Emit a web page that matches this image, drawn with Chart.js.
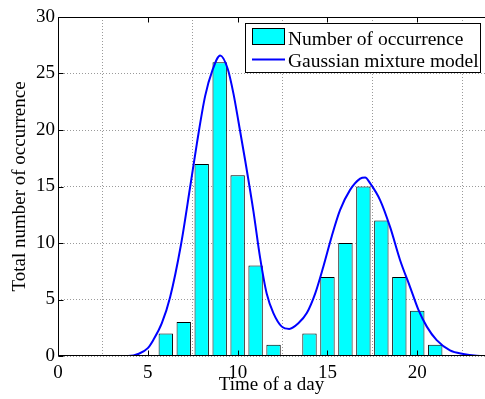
<!DOCTYPE html>
<html><head><meta charset="utf-8">
<script src="https://cdn.jsdelivr.net/npm/chart.js@4/dist/chart.umd.min.js"></script>
<style>html,body{margin:0;padding:0;background:#fff;}canvas{display:block}</style>
</head><body>
<canvas id="c" width="485" height="399"></canvas>
<script>
// ---- data ----
const hours  = [6, 7, 8, 9, 10, 11, 12, 13, 14, 15, 16, 17, 18, 19, 20, 21];
const counts = [2, 3, 17, 26, 16, 8, 1, 0, 2, 7, 10, 15, 12, 7, 4, 1];
const gmmX = [0, 3.9, 4.5, 5.0, 5.3, 5.78, 6.24, 6.84, 7.36, 7.73, 8.19, 8.6, 9.03, 9.45, 9.77, 10.04, 10.42, 10.88, 11.25, 11.62, 11.99, 12.46, 12.87, 13.38, 13.85, 14.31, 14.77, 15.24, 15.7, 16.26, 16.82, 17.1, 17.37, 17.93, 18.49, 19.04, 19.6, 20.06, 20.53, 21.08, 21.82, 22.56, 23.3, 24];
const gmmY = [0, 0, 0.2, 0.7, 1.4, 2.9, 5.2, 9.8, 15.0, 18.8, 23.0, 25.3, 26.6, 25.4, 23.2, 20.8, 17.3, 12.8, 8.7, 5.5, 3.8, 2.6, 2.4, 2.9, 3.8, 5.5, 7.9, 10.6, 12.9, 14.7, 15.7, 15.8, 15.3, 13.8, 11.4, 8.5, 6.1, 4.1, 2.6, 1.4, 0.5, 0.18, 0.03, 0];
const xTicks = [0, 5, 10, 15, 20];
const yTicks = [0, 5, 10, 15, 20, 25, 30];
const seriesLabels = ['Number of occurrence', 'Gaussian mixture model'];
const xTitle = 'Time of a day';
const yTitle = 'Total number of occurrence';

const FONT = {family: '"Liberation Serif", "Times New Roman", serif', size: 19};

const boxPlugin = {
  id: 'boxAndLegend',
  afterDraw(chart) {
    const {ctx, chartArea: {left, top, right, bottom}, scales: {x, y}} = chart;
    ctx.save();
    ctx.strokeStyle = '#000';
    ctx.lineWidth = 1;
    ctx.beginPath();
    const L = Math.round(left) + 0.5, T = Math.round(top) + 0.5, B = Math.round(bottom) - 0.5;
    ctx.moveTo(L, T); ctx.lineTo(right, T);
    ctx.moveTo(L, T); ctx.lineTo(L, B);
    ctx.moveTo(L, B); ctx.lineTo(right, B);
    // inward tick marks
    xTicks.forEach(v => {
      const px = Math.round(x.getPixelForValue(v)) + 0.5;
      ctx.moveTo(px, B); ctx.lineTo(px, B - 5);
      ctx.moveTo(px, T); ctx.lineTo(px, T + 5);
    });
    yTicks.forEach(v => {
      const py = Math.round(y.getPixelForValue(v)) + 0.5;
      ctx.moveTo(L, py); ctx.lineTo(L + 5, py);
    });
    ctx.stroke();

    // legend
    const lx = 245.5, ly = 23.5, lw = 235, lh = 49;
    ctx.fillStyle = '#fff';
    ctx.fillRect(lx, ly, lw, lh);
    ctx.strokeRect(lx, ly, lw, lh);
    const ds = chart.data.datasets;
    ctx.fillStyle = ds[0].backgroundColor;
    ctx.fillRect(252.5, 28.5, 32, 16);
    ctx.strokeStyle = '#000';
    ctx.strokeRect(252.5, 28.5, 32, 16);
    ctx.strokeStyle = ds[1].borderColor;
    ctx.lineWidth = 2;
    ctx.beginPath(); ctx.moveTo(252, 59.5); ctx.lineTo(285, 59.5); ctx.stroke();
    ctx.fillStyle = '#000';
    ctx.font = '19.5px ' + FONT.family;
    ctx.textBaseline = 'alphabetic';
    ctx.textAlign = 'left';
    ctx.fillText(ds[0].label, 288, 45);
    ctx.fillText(ds[1].label, 288, 67);
    ctx.restore();
  }
};

new Chart(document.getElementById('c'), {
  type: 'bar',
  data: {
    datasets: [
      {
        type: 'bar',
        label: seriesLabels[0],
        data: hours.map((h, i) => ({x: h, y: counts[i]})),
        backgroundColor: '#00ffff',
        borderColor: '#000',
        borderWidth: 1,
        barPercentage: 1,
        categoryPercentage: 0.8,
        order: 2
      },
      {
        type: 'line',
        label: seriesLabels[1],
        data: gmmX.map((v, i) => ({x: v, y: gmmY[i]})),
        borderColor: '#0000ff',
        borderWidth: 2,
        pointRadius: 0,
        fill: false,
        cubicInterpolationMode: 'monotone',
        order: 1
      }
    ]
  },
  options: {
    responsive: false,
    animation: false,
    devicePixelRatio: 1,
    layout: {padding: {top: 17, left: 0, right: 0, bottom: 0}},
    plugins: {legend: {display: false}, tooltip: {enabled: false}},
    scales: {
      x: {
        type: 'linear', min: 0, max: 23.77, offset: false,
        afterBuildTicks: s => { s.ticks = xTicks.map(v => ({value: v})); },
        afterFit: s => { s.height = 43; },
        grid: {color: '#9a9a9a', lineWidth: 1, drawTicks: false},
        border: {display: false, dash: [1, 2]},
        ticks: {font: FONT, color: '#000', padding: 6, maxRotation: 0, autoSkip: false},
        title: {display: true, text: xTitle, font: FONT, color: '#000', padding: 3}
      },
      y: {
        type: 'linear', min: 0, max: 30,
        afterBuildTicks: s => { s.ticks = yTicks.map(v => ({value: v})); },
        afterFit: s => { s.width = 58; },
        grid: {color: '#9a9a9a', lineWidth: 1, drawTicks: false},
        border: {display: false, dash: [1, 2]},
        ticks: {font: FONT, color: '#000', padding: 3, autoSkip: false},
        title: {display: true, text: yTitle, font: FONT, color: '#000', padding: 9}
      }
    }
  },
  plugins: [boxPlugin]
});
</script>
</body></html>
